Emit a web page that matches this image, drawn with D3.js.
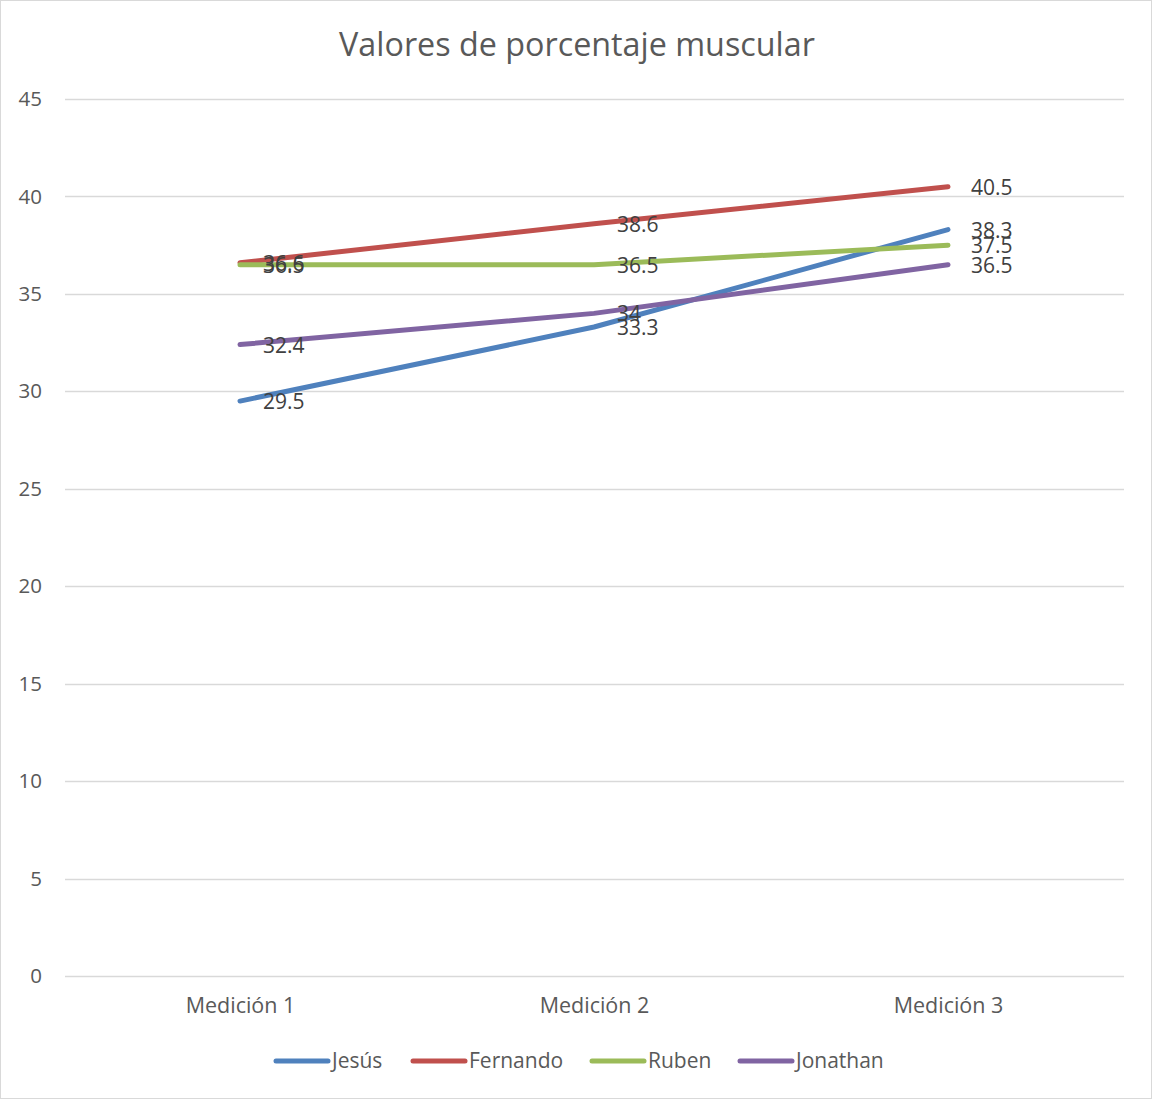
<!DOCTYPE html>
<html><head><meta charset="utf-8">
<script src="https://cdn.jsdelivr.net/npm/d3@7"></script>
<style>body{margin:0;background:#fff}svg{display:block}text{font-family:"Open Sans","Liberation Sans",sans-serif}</style>
</head><body>
<script>
const categories = ["Medición 1", "Medición 2", "Medición 3"];
const seriesNames = ["Jesús", "Fernando", "Ruben", "Jonathan"];
const jesus = [29.5, 33.3, 38.3];
const fernando = [36.6, 38.6, 40.5];
const ruben = [36.5, 36.5, 37.5];
const jonathan = [32.4, 34, 36.5];
const yTicks = [0, 5, 10, 15, 20, 25, 30, 35, 40, 45];
const colors = ["#4f81bd", "#c0504d", "#9bbb59", "#8064a2"];
const title = "Valores de porcentaje muscular";

const series = [jesus, fernando, ruben, jonathan].map((v, i) => ({name: seriesNames[i], values: v, color: colors[i]}));

const W = 1152, H = 1099;
const svg = d3.select("body").append("svg").attr("width", W).attr("height", H);
svg.append("rect").attr("x", 0.5).attr("y", 0.5).attr("width", W - 1).attr("height", H - 1)
  .attr("fill", "#fff").attr("stroke", "#d9d9d9");

const pLeft = 63, pRight = 1125, pTop = 99, pBottom = 976;
const x = d3.scalePoint().domain(categories).range([pLeft, pRight]).padding(0.5);
const y = d3.scaleLinear().domain([0, 45]).range([pBottom, pTop]);

svg.append("text").attr("x", 577).attr("y", 56).attr("text-anchor", "middle")
  .attr("font-size", 32.3).attr("fill", "#595959").text(title);

const grid = svg.append("g");
grid.selectAll("line").data(yTicks).join("line")
  .attr("x1", pLeft + 2).attr("x2", pRight - 1)
  .attr("y1", d => Math.round(y(d)) + 0.5).attr("y2", d => Math.round(y(d)) + 0.5)
  .attr("stroke", "#d9d9d9").attr("stroke-width", 1.3);

const yAxis = d3.axisLeft(y).tickValues(yTicks).tickSize(0).tickPadding(0);
const ya = svg.append("g").attr("transform", `translate(42,0)`).call(yAxis);
ya.select(".domain").remove();
ya.selectAll("text").attr("font-size", 20.5).attr("fill", "#595959").attr("font-family", '"Open Sans",sans-serif');

const xAxis = d3.axisBottom(x).tickSize(0).tickPadding(0);
const xa = svg.append("g").attr("transform", `translate(0,${pBottom + 22})`).call(xAxis);
xa.select(".domain").remove();
xa.selectAll("text").attr("font-size", 21.5).attr("fill", "#595959").attr("font-family", '"Open Sans",sans-serif');

const line = d3.line().x((d, i) => x(categories[i])).y(d => y(d));
svg.append("g").selectAll("path").data(series).join("path")
  .attr("d", d => line(d.values)).attr("fill", "none")
  .attr("stroke", d => d.color).attr("stroke-width", 5).attr("stroke-linecap", "round").attr("stroke-linejoin", "round");

const labels = svg.append("g");
series.forEach(s => {
  labels.selectAll(null).data(s.values).join("text")
    .attr("x", (d, i) => x(categories[i]) + 23)
    .attr("y", d => y(d) + 8)
    .attr("font-size", 21).attr("fill", "#404040")
    .text(d => d);
});

const legendItems = [{x: 276}, {x: 413}, {x: 592}, {x: 740}];
const lg = svg.append("g");
series.forEach((s, i) => {
  const lx = legendItems[i].x;
  lg.append("line").attr("x1", lx).attr("x2", lx + 52).attr("y1", 1061).attr("y2", 1061)
    .attr("stroke", s.color).attr("stroke-width", 5).attr("stroke-linecap", "round");
  lg.append("text").attr("x", lx + 56).attr("y", 1068).attr("font-size", 21).attr("fill", "#595959").text(s.name);
});
</script>
</body></html>
